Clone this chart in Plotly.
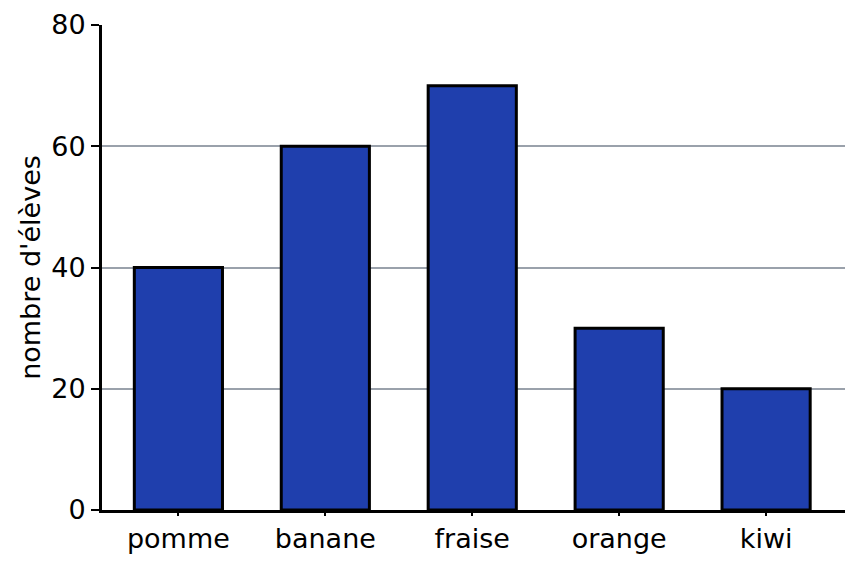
import plotly.graph_objects as go

fruits = ["pomme", "banane", "fraise", "orange", "kiwi"]
eleves = [40, 60, 70, 30, 20]
y_ticks = [0, 20, 40, 60, 80]

fig = go.Figure()
fig.add_trace(go.Bar(
    x=fruits,
    y=eleves,
    width=0.6,
    marker=dict(color="#1f3fad", line=dict(color="black", width=3)),
))

# the page puts the plot 8px in from the top-left corner, margins make up for it
fig.update_layout(
    width=859,
    height=567,
    margin=dict(l=93.5, r=22, t=17, b=64.5),
    plot_bgcolor="white",
    paper_bgcolor="white",
    showlegend=False,
    font=dict(family="DejaVu Sans", size=27, color="black"),
)
fig.update_xaxes(
    range=[-0.52, 4.537],
    automargin=False,
    showline=True, linecolor="black", linewidth=3,
    ticks="outside", ticklen=3, tickwidth=2, tickcolor="black",
    showgrid=False,
    tickfont=dict(size=27),
)
fig.update_yaxes(
    range=[0, 80],
    automargin=False,
    tickvals=y_ticks,
    showline=True, linecolor="black", linewidth=3,
    ticks="outside", ticklen=8, tickwidth=2, tickcolor="black",
    showgrid=True, gridcolor="#9aa1ab", gridwidth=1.5,
    zeroline=False,
    tickfont=dict(size=27),
    title=dict(text="nombre d'élèves", font=dict(size=27), standoff=3),
)

fig.write_html("out.html")
